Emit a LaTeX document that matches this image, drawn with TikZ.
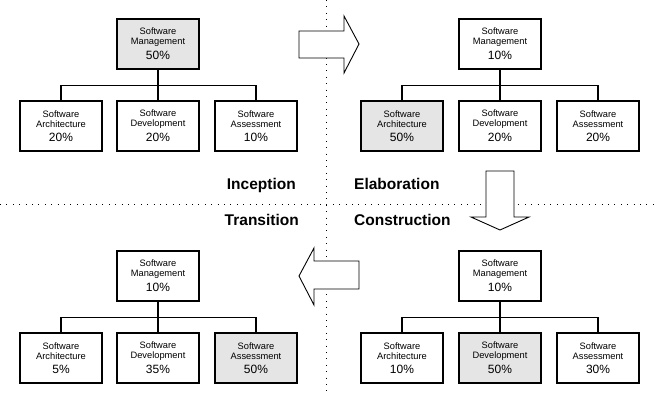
\documentclass[tikz,border=0pt]{standalone}
\usepackage{fontspec}
\setmainfont{Liberation Sans}
\begin{document}
\begin{tikzpicture}[x=1pt,y=-1pt,
  unitbox/.style={draw=black,line width=1.2pt,fill=white,minimum width=82pt,minimum height=50pt,
    inner sep=0pt,align=center,font=\fontsize{9.3}{10}\selectfont},
  hot/.style={unitbox,fill=gray!20},
  link/.style={line width=1.2pt},
  sep/.style={line width=0.9pt,dash pattern=on 0.9pt off 5.5pt},
  phase/.style={font=\fontsize{15.5}{18}\selectfont\bfseries,inner sep=0pt},
  bigarrow/.style={draw=black,line width=0.9pt,fill=white,line join=miter}]
\newcommand\share[2]{Software\\#1\\[4pt]{\fontsize{12}{13}\selectfont #2}}
\useasboundingbox (0,0) rectangle (655,394);
\fill[white] (0,0) rectangle (655,394);

% quadrant separators
\draw[sep] (0,204) -- (655,204);
\draw[sep] (326,0) -- (326,394);

% phase names
\node[phase,anchor=base east] (inc) at (296,189) {Inception};
\node[phase,anchor=base west] (ela) at (354,189) {Elaboration};
\node[phase,anchor=base east] (tra) at (299,225) {Transition};
\node[phase,anchor=base west] (con) at (354,225) {Construction};

% phase transitions
\draw[bigarrow] (299,31) -- (344,31) -- (344,16) -- (359,44) -- (344,73) -- (344,58) -- (299,58) -- cycle;
\draw[bigarrow] (486,171) -- (514,171) -- (514,217) -- (529,217) -- (500,230) -- (471,217) -- (486,217) -- cycle;
\draw[bigarrow] (359,261) -- (314,261) -- (314,248) -- (299,276) -- (314,305) -- (314,289) -- (359,289) -- cycle;

% Inception
\node[hot] (im) at (158,44) {\share{Management}{50\%}};
\node[unitbox] (ia) at (61,126) {\share{Architecture}{20\%}};
\node[unitbox] (id) at (158,126) {\share{Development}{20\%}};
\node[unitbox] (is) at (256,126) {\share{Assessment}{10\%}};
\draw[link] (im.south) -- ++(0,16) -| (ia.north);
\draw[link] (im.south) -- ++(0,16) -| (is.north);
\draw[link] (im.south) -- (id.north);

% Elaboration
\node[unitbox] (em) at (500,44) {\share{Management}{10\%}};
\node[hot] (ea) at (402,126) {\share{Architecture}{50\%}};
\node[unitbox] (ed) at (500,126) {\share{Development}{20\%}};
\node[unitbox] (es) at (598,126) {\share{Assessment}{20\%}};
\draw[link] (em.south) -- ++(0,16) -| (ea.north);
\draw[link] (em.south) -- ++(0,16) -| (es.north);
\draw[link] (em.south) -- (ed.north);

% Transition
\node[unitbox] (tm) at (158,276) {\share{Management}{10\%}};
\node[unitbox] (ta) at (61,358) {\share{Architecture}{5\%}};
\node[unitbox] (td) at (158,358) {\share{Development}{35\%}};
\node[hot] (ts) at (256,358) {\share{Assessment}{50\%}};
\draw[link] (tm.south) -- ++(0,16) -| (ta.north);
\draw[link] (tm.south) -- ++(0,16) -| (ts.north);
\draw[link] (tm.south) -- (td.north);

% Construction
\node[unitbox] (cm) at (500,276) {\share{Management}{10\%}};
\node[unitbox] (ca) at (402,358) {\share{Architecture}{10\%}};
\node[hot] (cd) at (500,358) {\share{Development}{50\%}};
\node[unitbox] (cs) at (598,358) {\share{Assessment}{30\%}};
\draw[link] (cm.south) -- ++(0,16) -| (ca.north);
\draw[link] (cm.south) -- ++(0,16) -| (cs.north);
\draw[link] (cm.south) -- (cd.north);
\end{tikzpicture}
\end{document}
